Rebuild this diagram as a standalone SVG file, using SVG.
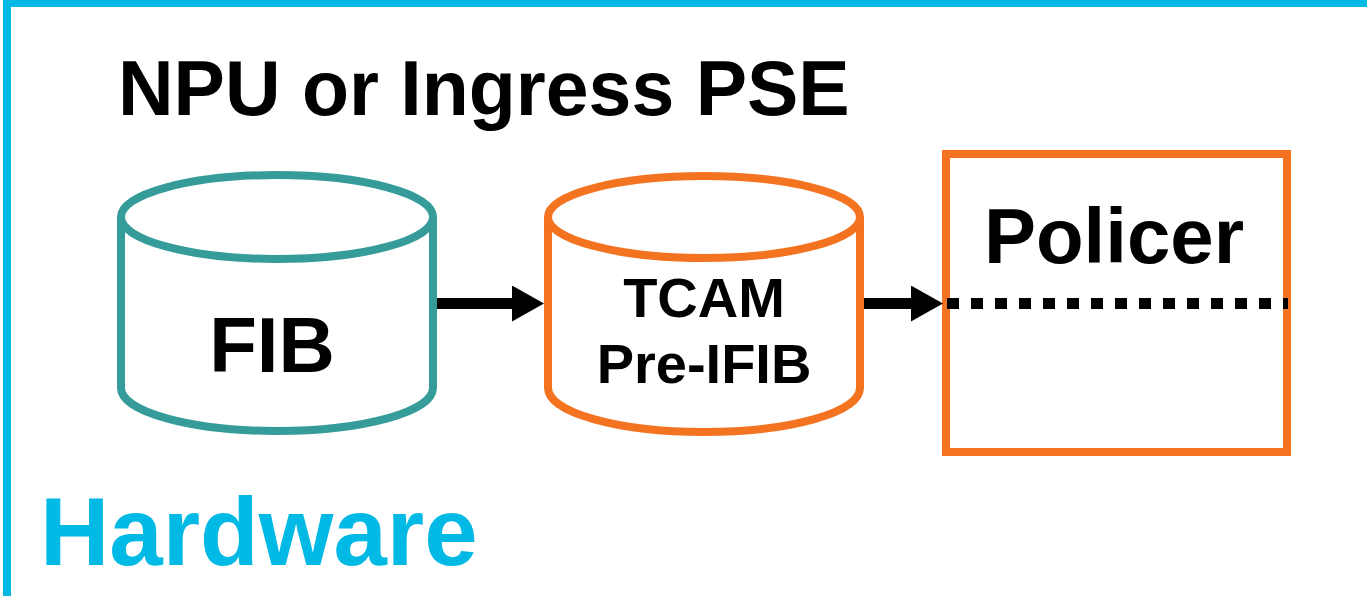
<svg xmlns="http://www.w3.org/2000/svg" width="1367" height="596" viewBox="0 0 1367 596">
  <style>
    .lbl { font-family: "Liberation Sans", Arial, sans-serif; font-weight: bold; fill: #000; }
    .teal { fill: #fff; stroke: #359C9A; stroke-width: 8; }
    .orange { fill: #fff; stroke: #F37321; stroke-width: 8; }
    .shaft { stroke: #000; stroke-width: 11; fill: none; }
  </style>
  <defs>
    <marker id="head" markerUnits="userSpaceOnUse" markerWidth="32" markerHeight="36" refX="0" refY="18" orient="auto" viewBox="0 0 32 36">
      <path d="M0,0 L32,18 L0,36 z" fill="#000"/>
    </marker>
  </defs>

  <rect width="1367" height="596" fill="#fff"/>

  <!-- frame: only the top and left edges fall inside the canvas -->
  <rect x="7" y="3" width="1400" height="700" fill="none" stroke="#00B9E5" stroke-width="8"/>

  <text class="lbl" x="118" y="115" font-size="77">NPU or Ingress PSE</text>

  <g id="fib">
    <path class="teal" d="M121,217 L121,388 A156,43 0 0 0 433,388 L433,217"/>
    <ellipse class="teal" cx="277" cy="217" rx="156" ry="42"/>
    <text class="lbl" x="272" y="372" font-size="78" text-anchor="middle">FIB</text>
  </g>

  <g id="tcam">
    <path class="orange" d="M548,217 L548,388 A156,44 0 0 0 860,388 L860,217"/>
    <ellipse class="orange" cx="704" cy="217" rx="156" ry="41"/>
    <text class="lbl" x="704" y="317" font-size="56" text-anchor="middle">TCAM</text>
    <text class="lbl" x="704" y="383" font-size="56" text-anchor="middle">Pre-IFIB</text>
  </g>

  <g id="policer">
    <rect class="orange" x="946" y="154" width="341" height="298"/>
    <text class="lbl" x="1114" y="263" font-size="78" text-anchor="middle">Policer</text>
    <line x1="947" y1="303.5" x2="1288" y2="303.5" stroke="#000" stroke-width="11" stroke-dasharray="12 12"/>
  </g>

  <g id="connectors">
    <line class="shaft" x1="437" y1="303.5" x2="512" y2="303.5" marker-end="url(#head)"/>
    <line class="shaft" x1="864" y1="303.5" x2="911" y2="303.5" marker-end="url(#head)"/>
  </g>

  <text x="40" y="565" font-size="96" font-family="Liberation Sans, Arial, sans-serif" font-weight="bold" fill="#00B9E5">Hardware</text>
</svg>
